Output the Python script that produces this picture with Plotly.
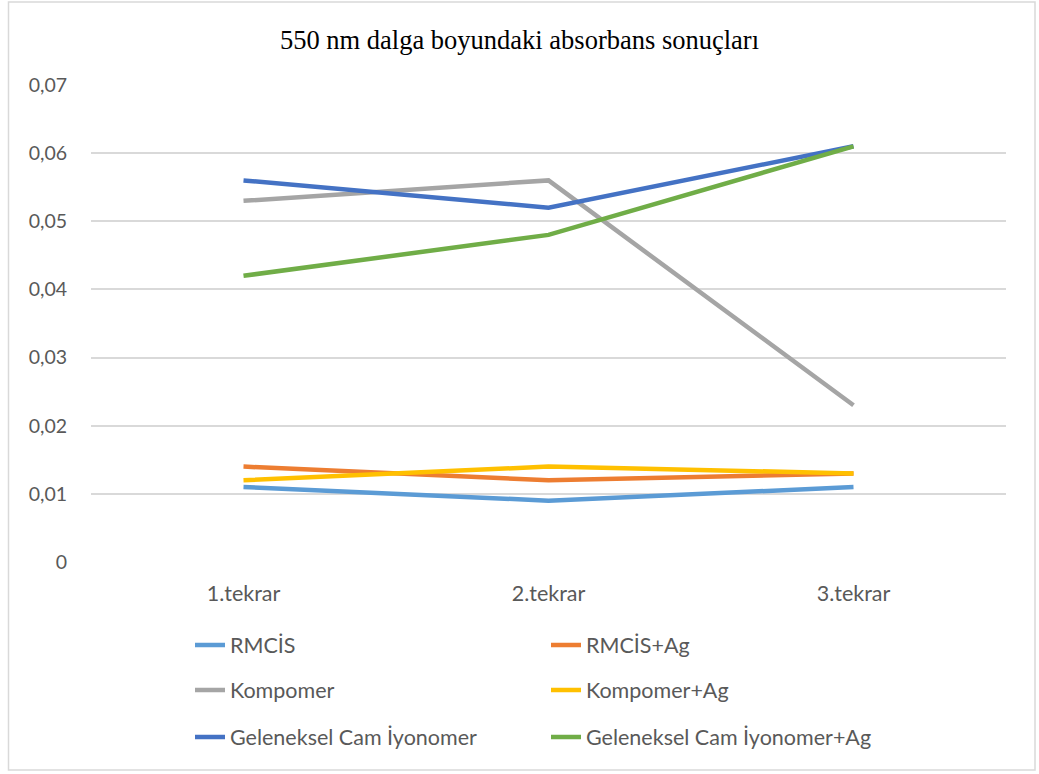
import plotly.graph_objects as go

categories = ["1.tekrar", "2.tekrar", "3.tekrar"]
series_names = ["RMCİS", "RMCİS+Ag", "Kompomer", "Kompomer+Ag",
                "Geleneksel Cam İyonomer", "Geleneksel Cam İyonomer+Ag"]
rmcis = [0.011, 0.009, 0.011]
rmcis_ag = [0.014, 0.012, 0.013]
kompomer = [0.053, 0.056, 0.023]
kompomer_ag = [0.012, 0.014, 0.013]
geleneksel = [0.056, 0.052, 0.061]
geleneksel_ag = [0.042, 0.048, 0.061]
y_tickvals = [0, 0.01, 0.02, 0.03, 0.04, 0.05, 0.06, 0.07]
y_ticktext = ["0", "0,01", "0,02", "0,03", "0,04", "0,05", "0,06", "0,07"]

values = [rmcis, rmcis_ag, kompomer, kompomer_ag, geleneksel, geleneksel_ag]
colors = ["#5B9BD5", "#ED7D31", "#A5A5A5", "#FFC000", "#4472C4", "#70AD47"]
legends = ["legend", "legend", "legend2", "legend2", "legend3", "legend3"]

W, H = 1039, 774
L, R, T, B = 91, 33, 85, 212
pw, ph = W - L - R, H - T - B
SANS = "Lato, Open Sans, sans-serif"

fig = go.Figure()
for name, vals, col, lg in zip(series_names, values, colors, legends):
    fig.add_trace(go.Scatter(
        x=categories, y=vals, name=name, mode="lines",
        line=dict(color=col, width=4.5), legend=lg,
        hoverinfo="x+y+name"))

def py_to_paper(py):
    return (H - B - py) / ph

def px_to_paper(px):
    return (px - L) / pw

leg_common = dict(orientation="h", entrywidth=311, entrywidthmode="pixels",
                  xanchor="left", yanchor="middle", x=px_to_paper(190),
                  font=dict(family=SANS, size=21.5, color="#595959"),
                  bgcolor="rgba(0,0,0,0)", itemclick=False, itemdoubleclick=False)

fig.update_layout(
    width=W, height=H,
    margin=dict(l=L, r=R, t=T, b=B),
    paper_bgcolor="white", plot_bgcolor="white",
    title=dict(text="550 nm dalga boyundaki absorbans sonuçları",
               x=0.5, xanchor="center", y=1 - 40 / H, yanchor="middle",
               font=dict(family="Liberation Serif, Times New Roman, serif", size=26.5, color="#000000")),
    showlegend=True,
    legend=dict(**leg_common, y=py_to_paper(645)),
    legend2=dict(**leg_common, y=py_to_paper(690)),
    legend3=dict(**leg_common, y=py_to_paper(737)),
    xaxis=dict(type="category", range=[-0.5, 2.5], showgrid=False, zeroline=False, showline=False,
               ticks="", ticklabelstandoff=16,
               tickfont=dict(family=SANS, size=21.5, color="#595959")),
    yaxis=dict(range=[0, 0.07], tickvals=y_tickvals, ticktext=y_ticktext,
               showgrid=True, gridcolor="#D9D9D9", gridwidth=1.5,
               zeroline=False, showline=False, ticks="", ticklabelstandoff=23,
               tickfont=dict(family=SANS, size=19.5, color="#595959")),
    shapes=[dict(type="rect", xref="paper", yref="paper",
                 x0=px_to_paper(8.5), x1=px_to_paper(1035),
                 y0=py_to_paper(770), y1=py_to_paper(2),
                 line=dict(color="#D9D9D9", width=1.5), fillcolor="rgba(0,0,0,0)",
                 layer="below")],
)

fig.write_html("out.html", config={"displayModeBar": False},
               post_script="document.body.style.margin='0';document.body.style.padding='0';")
